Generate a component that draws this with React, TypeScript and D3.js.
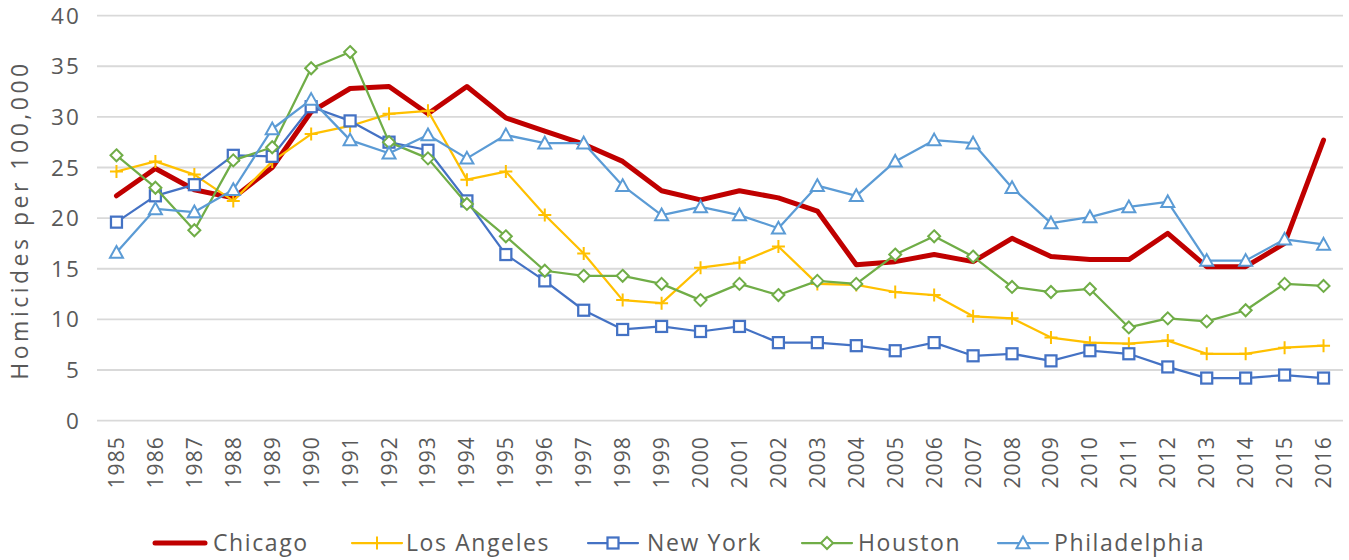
import React from "react";
import * as d3 from "d3";

const years = [1985,1986,1987,1988,1989,1990,1991,1992,1993,1994,1995,1996,1997,1998,1999,2000,2001,2002,2003,2004,2005,2006,2007,2008,2009,2010,2011,2012,2013,2014,2015,2016];
const chicago = [22.2,24.9,22.8,22.0,25.0,30.5,32.8,33.0,30.3,33.0,29.9,28.6,27.3,25.6,22.7,21.8,22.7,22.0,20.7,15.4,15.7,16.4,15.7,18.0,16.2,15.9,15.9,18.5,15.2,15.2,17.5,27.7];
const losAngeles = [24.6,25.6,24.3,21.7,25.6,28.3,29.1,30.3,30.6,23.8,24.6,20.3,16.5,11.9,11.6,15.1,15.6,17.2,13.5,13.4,12.7,12.4,10.3,10.1,8.2,7.7,7.6,7.9,6.6,6.6,7.2,7.4];
const newYork = [19.6,22.2,23.3,26.2,26.1,31.0,29.6,27.5,26.7,21.7,16.4,13.8,10.9,9.0,9.3,8.8,9.3,7.7,7.7,7.4,6.9,7.7,6.4,6.6,5.9,6.9,6.6,5.3,4.2,4.2,4.5,4.2];
const houston = [26.2,23.0,18.8,25.7,27.0,34.8,36.4,27.5,25.9,21.4,18.2,14.8,14.3,14.3,13.5,11.9,13.5,12.4,13.8,13.5,16.4,18.2,16.2,13.2,12.7,13.0,9.2,10.1,9.8,10.9,13.5,13.3];
const philadelphia = [16.6,20.9,20.6,22.8,28.8,31.7,27.7,26.4,28.2,25.9,28.2,27.4,27.4,23.2,20.3,21.1,20.3,19.0,23.2,22.2,25.6,27.7,27.4,23.0,19.5,20.1,21.1,21.6,15.8,15.8,17.9,17.4];
const yTicks = [0,5,10,15,20,25,30,35,40];
const seriesNames = ["Chicago","Los Angeles","New York","Houston","Philadelphia"];
const yAxisTitle = "Homicides per 100,000";

const FONT = "'Open Sans', sans-serif";
const TEXT = "#595959";

type Marker = "none" | "plus" | "square" | "diamond" | "triangle";
const series = [
  { name: seriesNames[0], values: chicago, color: "#C00000", width: 5, marker: "none" as Marker },
  { name: seriesNames[1], values: losAngeles, color: "#FFC000", width: 2.25, marker: "plus" as Marker },
  { name: seriesNames[2], values: newYork, color: "#4472C4", width: 2.25, marker: "square" as Marker },
  { name: seriesNames[3], values: houston, color: "#70AD47", width: 2.25, marker: "diamond" as Marker },
  { name: seriesNames[4], values: philadelphia, color: "#5B9BD5", width: 2.25, marker: "triangle" as Marker },
];

function MarkerShape({ type, x, y, color }: { type: Marker; x: number; y: number; color: string }) {
  if (type === "square") {
    const s = 11;
    return <rect x={x - s / 2} y={y - s / 2} width={s} height={s} fill="#fff" stroke={color} strokeWidth={2.25} />;
  }
  if (type === "diamond") {
    const r = 6;
    return <path d={`M${x},${y - r}L${x + r},${y}L${x},${y + r}L${x - r},${y}Z`} fill="#fff" stroke={color} strokeWidth={2} />;
  }
  if (type === "triangle") {
    const r = 6.5;
    return <path d={`M${x},${y - r}L${x + r},${y + r * 0.8}L${x - r},${y + r * 0.8}Z`} fill="#fff" stroke={color} strokeWidth={2} />;
  }
  if (type === "plus") {
    const r = 6.5;
    return <path d={`M${x - r},${y}L${x + r},${y}M${x},${y - r}L${x},${y + r}`} fill="none" stroke={color} strokeWidth={2} />;
  }
  return null;
}

export default function App() {
  const W = 1349, H = 560;
  const x = d3.scaleBand<number>().domain(years).range([97, 1343]);
  const y = d3.scaleLinear().domain([0, 40]).range([420.6, 15.6]);
  const cx = (yr: number) => (x(yr) as number) + x.bandwidth() / 2;
  const line = d3.line<number>().x((_, i) => cx(years[i])).y((d) => y(d));

  const legendItems = [
    { lx: 155, tx: 213 },
    { lx: 352, tx: 406 },
    { lx: 588, tx: 647 },
    { lx: 802, tx: 858 },
    { lx: 998, tx: 1054 },
  ];
  const legY = 543;
  const yLs = 2.2;
  const xLs = 1.1;

  return (
    <svg width={W} height={H} style={{ position: "absolute", left: 0, top: 0, background: "#fff" }} fontFamily={FONT}>
      {yTicks.map((t) => (
        <g key={t}>
          <line x1={97} x2={1343} y1={y(t)} y2={y(t)} stroke="#D9D9D9" strokeWidth={1.8} />
          <text x={79 + yLs} y={y(t)} dy="0.36em" textAnchor="end" fontSize={22.5} letterSpacing={yLs} fill={TEXT}>{t}</text>
        </g>
      ))}
      <text transform={`translate(28,${220}) rotate(-90)`} textAnchor="middle" fontSize={23} letterSpacing={3.5} fill={TEXT}>{yAxisTitle}</text>
      {years.map((yr) => (
        <text key={yr} transform={`translate(${cx(yr) + 7.5},${435 + xLs}) rotate(-90)`} textAnchor="end" fontSize={21} letterSpacing={xLs} fill={TEXT}>{yr}</text>
      ))}
      {series.map((s) => (
        <g key={s.name}>
          <path d={line(s.values) || ""} fill="none" stroke={s.color} strokeWidth={s.width} strokeLinejoin="round" strokeLinecap="round" />
          {s.values.map((v, i) => (
            <MarkerShape key={i} type={s.marker} x={cx(years[i])} y={y(v)} color={s.color} />
          ))}
        </g>
      ))}
      {series.map((s, i) => {
        const it = legendItems[i];
        const len = 50;
        return (
          <g key={s.name}>
            <line x1={it.lx} x2={it.lx + len} y1={legY} y2={legY} stroke={s.color} strokeWidth={s.width} strokeLinecap="round" />
            <MarkerShape type={s.marker} x={it.lx + len / 2} y={legY} color={s.color} />
            <text x={it.tx} y={legY} dy="0.36em" fontSize={23} letterSpacing={1.6} fill={TEXT}>{s.name}</text>
          </g>
        );
      })}
    </svg>
  );
}
